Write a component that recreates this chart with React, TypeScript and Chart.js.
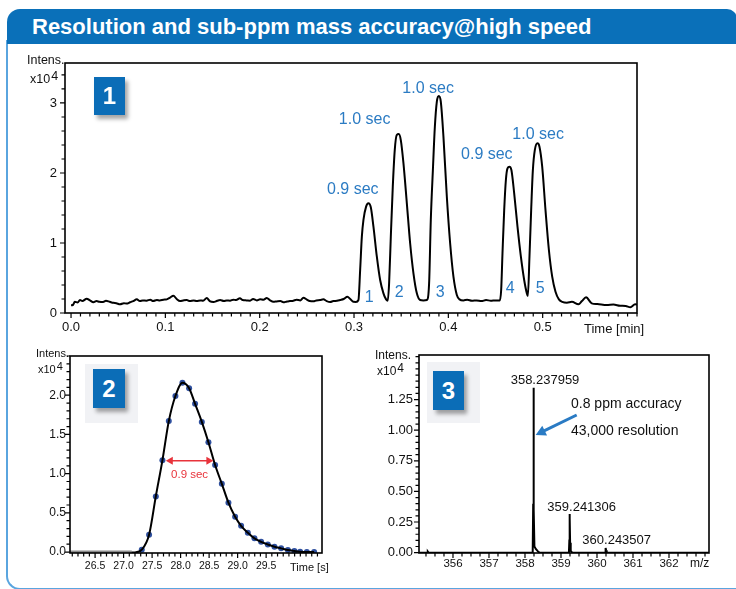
import React, { useEffect, useRef } from "react";
import { Chart, registerables } from "chart.js";

Chart.register(...registerables);

const FONT = "'Liberation Sans', Arial, Helvetica, sans-serif";
const BLUE_TEXT = "#2b7bc3";

// ---------- Panel 1: chromatogram (Time [min], Intens. x10^4) ----------
const p1Time = [
  0.0, 0.002, 0.004, 0.007, 0.0095, 0.012, 0.0166, 0.02, 0.0237, 0.027, 0.03, 0.034, 0.037, 0.041, 0.045,
  0.048, 0.052, 0.056, 0.059, 0.0626, 0.066, 0.0697, 0.073, 0.076, 0.08, 0.084, 0.087, 0.091, 0.094, 0.098,
  0.1015, 0.105, 0.1085, 0.112, 0.1156, 0.119, 0.1227, 0.126, 0.13, 0.1333, 0.137, 0.14, 0.1439, 0.147,
  0.151, 0.155, 0.158, 0.162, 0.165, 0.1686, 0.172, 0.175, 0.179, 0.182, 0.186, 0.1898, 0.193, 0.197,
  0.2004, 0.204, 0.2075, 0.211, 0.2145, 0.218, 0.222, 0.2251, 0.229, 0.232, 0.2357, 0.239, 0.243, 0.2463,
  0.25, 0.253, 0.257, 0.26, 0.264, 0.2675, 0.271, 0.2747, 0.278, 0.282, 0.2853, 0.289, 0.293, 0.296,
  0.2994, 0.302, 0.3047, 0.3065, 0.3083, 0.31, 0.3128, 0.3153, 0.3178, 0.3206, 0.3242, 0.3277, 0.3312,
  0.334, 0.3358, 0.3372, 0.339, 0.3411, 0.3432, 0.3453, 0.3475, 0.3496, 0.3524, 0.356, 0.3595, 0.363,
  0.3666, 0.3701, 0.3735, 0.3772, 0.3796, 0.3814, 0.3836, 0.3857, 0.3878, 0.3899, 0.392, 0.3948, 0.3984,
  0.4019, 0.4054, 0.409, 0.4118, 0.416, 0.42, 0.425, 0.43, 0.435, 0.44, 0.445, 0.45, 0.4545, 0.456,
  0.4574, 0.4592, 0.461, 0.4627, 0.4648, 0.4669, 0.4698, 0.4733, 0.4769, 0.4804, 0.4832, 0.4843, 0.486,
  0.4878, 0.4896, 0.4917, 0.4945, 0.4966, 0.4995, 0.503, 0.5066, 0.5101, 0.5136, 0.5172, 0.5207, 0.5257,
  0.531, 0.538, 0.5416, 0.546, 0.552, 0.558, 0.568, 0.575, 0.582, 0.588, 0.593, 0.598, 0.6,
];
const p1Intensity = [
  0.11, 0.114, 0.16, 0.15, 0.186, 0.17, 0.205, 0.18, 0.153, 0.17, 0.16, 0.157, 0.175, 0.16, 0.145,
  0.14, 0.124, 0.14, 0.135, 0.153, 0.17, 0.195, 0.17, 0.18, 0.176, 0.19, 0.17, 0.186, 0.18, 0.19,
  0.195, 0.22, 0.248, 0.2, 0.171, 0.18, 0.186, 0.17, 0.18, 0.171, 0.18, 0.175, 0.214, 0.17,
  0.157, 0.175, 0.186, 0.17, 0.18, 0.176, 0.19, 0.185, 0.21, 0.185, 0.18, 0.176, 0.2, 0.18,
  0.195, 0.19, 0.214, 0.18, 0.16, 0.165, 0.17, 0.153, 0.165, 0.17, 0.176, 0.19, 0.18, 0.219,
  0.19, 0.17, 0.167, 0.18, 0.185, 0.195, 0.17, 0.157, 0.17, 0.175, 0.186, 0.2, 0.233, 0.2,
  0.16, 0.158, 0.186, 0.614, 1.09, 1.33, 1.52, 1.567, 1.51, 1.233, 0.804, 0.471, 0.281,
  0.195, 0.176, 0.424, 1.09, 1.805, 2.33, 2.543, 2.557, 2.47, 2.14, 1.567, 0.996, 0.567,
  0.281, 0.186, 0.18, 0.186, 0.424, 1.33, 2.04, 2.66, 3.02, 3.1, 3.02, 2.52, 1.66,
  0.996, 0.519, 0.257, 0.195, 0.18, 0.19, 0.175, 0.18, 0.17, 0.185, 0.175, 0.18, 0.18, 0.329,
  0.853, 1.47, 1.9, 2.067, 2.09, 2.04, 1.71, 1.233, 0.804, 0.471, 0.281, 0.243, 0.804,
  1.47, 2.04, 2.33, 2.424, 2.376, 2.09, 1.47, 0.9, 0.519, 0.304, 0.195, 0.16, 0.147,
  0.16, 0.124, 0.17, 0.224, 0.138, 0.128, 0.114, 0.12, 0.104, 0.1, 0.081, 0.124, 0.12,
];
const p1XTicks = [0, 0.1, 0.2, 0.3, 0.4, 0.5];
const p1YTicks = [0, 1, 2, 3];
const p1PeakLabels = ["0.9 sec", "1.0 sec", "1.0 sec", "0.9 sec", "1.0 sec"];
const p1PeakLabelTime = [0.2987, 0.3112, 0.3786, 0.4408, 0.4952];
const p1PeakLabelValue = [1.757, 2.757, 3.21, 2.257, 2.543];
const p1PeakNumbers = ["1", "2", "3", "4", "5"];
const p1PeakNumberTime = [0.316, 0.3478, 0.3913, 0.4655, 0.4973];
const p1PeakNumberValue = [0.219, 0.29, 0.29, 0.353, 0.353];

// ---------- Panel 2: single peak (Time [s]) ----------
const p2BaselineTime = [26.06, 27.144];
const p2BaselineValue = [0, 0];
const p2FitLeadTime = [27.12, 27.2];
const p2FitLeadValue = [-0.006, -0.004];
const p2Time = [
  27.319, 27.447, 27.565, 27.681, 27.793, 27.909, 28.032, 28.149, 28.254, 28.372, 28.488, 28.605, 28.723,
  28.839, 28.956, 29.061, 29.179, 29.295, 29.412, 29.53, 29.646, 29.763, 29.881, 29.996, 30.096, 30.214, 30.342,
];
const p2Intensity = [
  0.03, 0.22, 0.71, 1.17, 1.67, 1.99, 2.16, 2.09, 1.89, 1.66, 1.4, 1.11, 0.87,
  0.63, 0.45, 0.335, 0.246, 0.175, 0.13, 0.097, 0.067, 0.047, 0.025, 0.013, 0.004, 0.0, 0.0,
];
const p2XTicks = [26.5, 27.0, 27.5, 28.0, 28.5, 29.0, 29.5];
const p2YTicks = [0, 0.5, 1.0, 1.5, 2.0];
const p2WidthLabel = "0.9 sec";
const p2WidthFrom = 27.74;
const p2WidthTo = 28.575;
const p2WidthLevel = 1.163;

// ---------- Panel 3: mass spectrum (m/z) ----------
const p3Mz = [
  355.06, 355.28, 355.3, 355.32, 358.2, 358.215, 358.228, 358.235, 358.238, 358.242, 358.25, 358.262,
  358.3, 358.36, 358.4, 359.22, 359.232, 359.238, 359.241, 359.245, 359.253, 359.27, 359.31, 360.225,
  360.236, 360.2435, 360.252, 360.27, 363.11,
];
const p3Intensity = [
  0, 0, 0.008, 0, 0, 0.03, 0.4, 1.2, 1.347, 1.2, 0.35, 0.05,
  0.03, 0.01, 0, 0, 0.1, 0.29, 0.316, 0.28, 0.08, 0.015, 0, 0,
  0.025, 0.038, 0.02, 0, 0,
];
const p3XTicks = [356, 357, 358, 359, 360, 361, 362];
const p3YTicks = [0, 0.25, 0.5, 0.75, 1.0, 1.25];
const p3PeakLabels = ["358.237959", "359.241306", "360.243507"];
const p3PeakLabelMz = [358.556, 359.575, 360.547];
const p3PeakLabelValue = [1.41, 0.368, 0.098];

type AxisSpec = {
  min: number;
  max: number;
  labels: number[];
  minor: number;
  fmt: (v: number) => string;
  font: number;
  pad: number;
  size: number;
};

function buildScales(xs: AxisSpec, ys: AxisSpec) {
  return {
    x: {
      type: "linear",
      min: xs.min,
      max: xs.max,
      grid: { display: false, drawTicks: false },
      border: { display: false },
      ticks: {
        autoSkip: false,
        maxRotation: 0,
        minRotation: 0,
        padding: xs.pad,
        color: "#111",
        font: { family: FONT, size: xs.font },
        callback: (v: any) => xs.fmt(Number(v)),
      },
      afterBuildTicks: (s: any) => {
        s.ticks = xs.labels.map((v) => ({ value: v }));
      },
      afterFit: (s: any) => {
        s.height = xs.size;
        s.paddingLeft = 0;
        s.paddingRight = 0;
      },
    },
    y: {
      type: "linear",
      min: ys.min,
      max: ys.max,
      grid: { display: false, drawTicks: false },
      border: { display: false },
      ticks: {
        autoSkip: false,
        padding: ys.pad,
        color: "#111",
        font: { family: FONT, size: ys.font },
        callback: (v: any) => ys.fmt(Number(v)),
      },
      afterBuildTicks: (s: any) => {
        s.ticks = ys.labels.map((v) => ({ value: v }));
      },
      afterFit: (s: any) => {
        s.width = ys.size;
        s.paddingTop = 0;
        s.paddingBottom = 0;
      },
    },
  };
}

function drawFrame(chart: any, xs: AxisSpec, ys: AxisSpec) {
  const { ctx, chartArea: a } = chart;
  const x = chart.scales.x;
  const y = chart.scales.y;
  ctx.save();
  ctx.strokeStyle = "#000";
  ctx.lineWidth = 1.2;
  ctx.beginPath();
  const xi0 = Math.ceil(xs.min / xs.minor - 1e-6);
  const xi1 = Math.floor(xs.max / xs.minor + 1e-6);
  for (let i = xi0; i <= xi1; i++) {
    const v = i * xs.minor;
    const major = xs.labels.some((m) => Math.abs(m - v) < xs.minor * 0.1);
    const px = x.getPixelForValue(v);
    ctx.moveTo(px, a.bottom);
    ctx.lineTo(px, a.bottom + (major ? 5 : 3.5));
  }
  const yi0 = Math.ceil(ys.min / ys.minor - 1e-6);
  const yi1 = Math.floor(ys.max / ys.minor + 1e-6);
  for (let i = yi0; i <= yi1; i++) {
    const v = i * ys.minor;
    const major = ys.labels.some((m) => Math.abs(m - v) < ys.minor * 0.1);
    const py = y.getPixelForValue(v);
    ctx.moveTo(a.left, py);
    ctx.lineTo(a.left - (major ? 5 : 3.5), py);
  }
  ctx.stroke();
  ctx.lineWidth = 1.6;
  ctx.strokeRect(a.left, a.top, a.right - a.left, a.bottom - a.top);
  ctx.restore();
}

function text(
  ctx: CanvasRenderingContext2D,
  s: string,
  px: number,
  py: number,
  size: number,
  color: string,
  align: CanvasTextAlign = "center",
  baseline: CanvasTextBaseline = "middle"
) {
  ctx.save();
  ctx.font = `${size}px ${FONT}`;
  ctx.fillStyle = color;
  ctx.textAlign = align;
  ctx.textBaseline = baseline;
  ctx.fillText(s, px, py);
  ctx.restore();
}

function arrowHead(ctx: CanvasRenderingContext2D, fx: number, fy: number, tx: number, ty: number, len: number, half: number) {
  const ang = Math.atan2(ty - fy, tx - fx);
  ctx.beginPath();
  ctx.moveTo(tx, ty);
  ctx.lineTo(tx - len * Math.cos(ang) + half * Math.sin(ang), ty - len * Math.sin(ang) - half * Math.cos(ang));
  ctx.lineTo(tx - len * Math.cos(ang) - half * Math.sin(ang), ty - len * Math.sin(ang) + half * Math.cos(ang));
  ctx.closePath();
  ctx.fill();
}

const pts = (xs: number[], ys: number[]) => xs.map((v, i) => ({ x: v, y: ys[i] }));

type PanelProps = { left: number; top: number; width: number; height: number; make: () => any };

function ChartPanel({ left, top, width, height, make }: PanelProps) {
  const ref = useRef<HTMLCanvasElement | null>(null);
  useEffect(() => {
    if (!ref.current) return;
    const chart = new Chart(ref.current, make());
    return () => chart.destroy();
  }, []);
  return (
    <canvas
      ref={ref}
      width={width}
      height={height}
      style={{ position: "absolute", left, top, width, height, display: "block" }}
    />
  );
}

const P1X: AxisSpec = { min: -0.0064, max: 0.6, labels: p1XTicks, minor: 0.01, fmt: (v) => v.toFixed(1), font: 13, pad: 7, size: 32 };
const P1Y: AxisSpec = { min: 0, max: 3.571, labels: p1YTicks, minor: 0.2, fmt: (v) => String(Math.round(v)), font: 13, pad: 8, size: 50 };
const P2X: AxisSpec = { min: 26.06, max: 30.48, labels: p2XTicks, minor: 0.1, fmt: (v) => v.toFixed(1), font: 10.5, pad: 7, size: 32 };
const P2Y: AxisSpec = { min: -0.012, max: 2.5, labels: p2YTicks, minor: 0.1, fmt: (v) => v.toFixed(1), font: 12, pad: 4, size: 50 };
const P3X: AxisSpec = { min: 355.056, max: 363.111, labels: p3XTicks, minor: 0.25, fmt: (v) => String(Math.round(v)), font: 11.5, pad: 4, size: 32 };
const P3Y: AxisSpec = { min: -0.003, max: 1.614, labels: p3YTicks, minor: 0.05, fmt: (v) => v.toFixed(2), font: 13, pad: 6, size: 49 };

function makePanel1() {
  return {
    type: "scatter",
    data: {
      datasets: [
        {
          data: pts(p1Time, p1Intensity),
          showLine: true,
          borderColor: "#000",
          borderWidth: 2,
          pointRadius: 0,
          cubicInterpolationMode: "monotone",
        },
      ],
    },
    options: {
      responsive: false,
      animation: false,
      events: [],
      layout: { padding: { top: 8, right: 18, left: 0, bottom: 0 } },
      plugins: { legend: { display: false }, tooltip: { enabled: false } },
      scales: buildScales(P1X, P1Y),
    },
    plugins: [
      {
        id: "p1overlay",
        afterDraw(chart: any) {
          drawFrame(chart, P1X, P1Y);
          const { ctx, chartArea: a } = chart;
          const x = chart.scales.x;
          const y = chart.scales.y;
          p1PeakLabels.forEach((s, i) =>
            text(ctx, s, x.getPixelForValue(p1PeakLabelTime[i]), y.getPixelForValue(p1PeakLabelValue[i]), 16, BLUE_TEXT)
          );
          p1PeakNumbers.forEach((s, i) =>
            text(ctx, s, x.getPixelForValue(p1PeakNumberTime[i]), y.getPixelForValue(p1PeakNumberValue[i]), 16, BLUE_TEXT)
          );
          text(ctx, "Time [min]", a.right - 53, a.bottom + 19.5, 13, "#111", "left", "alphabetic");
        },
      },
    ],
  };
}

function makePanel2() {
  return {
    type: "scatter",
    data: {
      datasets: [
        {
          data: pts(p2BaselineTime, p2BaselineValue),
          showLine: true,
          borderColor: "#8a8a8a",
          borderWidth: 3,
          pointRadius: 0,
        },
        {
          data: pts(p2FitLeadTime.concat(p2Time), p2FitLeadValue.concat(p2Intensity)),
          showLine: true,
          borderColor: "#000",
          borderWidth: 2,
          pointRadius: 0,
          cubicInterpolationMode: "monotone",
        },
        {
          data: pts(p2Time, p2Intensity),
          showLine: false,
          pointRadius: 3,
          pointBackgroundColor: "#2e4f9e",
          pointBorderColor: "#2e4f9e",
          pointBorderWidth: 0,
        },
      ],
    },
    options: {
      responsive: false,
      animation: false,
      events: [],
      layout: { padding: { top: 11, right: 18, left: 0, bottom: 0 } },
      plugins: { legend: { display: false }, tooltip: { enabled: false } },
      scales: buildScales(P2X, P2Y),
    },
    plugins: [
      {
        id: "p2overlay",
        afterDraw(chart: any) {
          drawFrame(chart, P2X, P2Y);
          const { ctx, chartArea: a } = chart;
          const x = chart.scales.x;
          const y = chart.scales.y;
          const x0 = x.getPixelForValue(p2WidthFrom);
          const x1 = x.getPixelForValue(p2WidthTo);
          const yy = y.getPixelForValue(p2WidthLevel);
          ctx.save();
          ctx.strokeStyle = "#e8333b";
          ctx.fillStyle = "#e8333b";
          ctx.lineWidth = 1.5;
          ctx.beginPath();
          ctx.moveTo(x0 + 4, yy);
          ctx.lineTo(x1 - 4, yy);
          ctx.stroke();
          arrowHead(ctx, x1, yy, x0, yy, 7, 4);
          arrowHead(ctx, x0, yy, x1, yy, 7, 4);
          ctx.restore();
          text(ctx, p2WidthLabel, (x0 + x1) / 2, yy + 14, 11.5, "#e8333b");
          text(ctx, "Time [s]", a.right - 32, a.bottom + 18, 11, "#111", "left", "alphabetic");
        },
      },
    ],
  };
}

function makePanel3() {
  return {
    type: "scatter",
    data: {
      datasets: [
        {
          data: pts(p3Mz, p3Intensity),
          showLine: true,
          borderColor: "#000",
          borderWidth: 2,
          pointRadius: 0,
        },
      ],
    },
    options: {
      responsive: false,
      animation: false,
      events: [],
      layout: { padding: { top: 10, right: 21, left: 0, bottom: 0 } },
      plugins: { legend: { display: false }, tooltip: { enabled: false } },
      scales: buildScales(P3X, P3Y),
    },
    plugins: [
      {
        id: "p3overlay",
        afterDraw(chart: any) {
          drawFrame(chart, P3X, P3Y);
          const { ctx, chartArea: a } = chart;
          const x = chart.scales.x;
          const y = chart.scales.y;
          p3PeakLabels.forEach((s, i) =>
            text(ctx, s, x.getPixelForValue(p3PeakLabelMz[i]), y.getPixelForValue(p3PeakLabelValue[i]), 13, "#111")
          );
          text(ctx, "0.8 ppm accuracy", x.getPixelForValue(359.278), y.getPixelForValue(1.214), 14, "#111", "left");
          text(ctx, "43,000 resolution", x.getPixelForValue(359.278), y.getPixelForValue(0.995), 14, "#111", "left");
          const fx = x.getPixelForValue(359.436);
          const fy = y.getPixelForValue(1.124);
          const tx = x.getPixelForValue(358.297);
          const ty = y.getPixelForValue(0.961);
          ctx.save();
          ctx.strokeStyle = "#2a7bc4";
          ctx.fillStyle = "#2a7bc4";
          ctx.lineWidth = 3;
          const ang = Math.atan2(ty - fy, tx - fx);
          ctx.beginPath();
          ctx.moveTo(fx, fy);
          ctx.lineTo(tx - 7 * Math.cos(ang), ty - 7 * Math.sin(ang));
          ctx.stroke();
          arrowHead(ctx, fx, fy, tx, ty, 10, 5.5);
          ctx.restore();
          text(ctx, "m/z", a.right - 19, a.bottom + 13.6, 12, "#111", "left", "alphabetic");
        },
      },
    ],
  };
}

function IntensLabel({ left, top, size, xLeft, xTop }: { left: number; top: number; size: number; xLeft: number; xTop: number }) {
  return (
    <>
      <div style={{ position: "absolute", left, top, font: `${size}px ${FONT}`, lineHeight: 1, color: "#111", whiteSpace: "nowrap" }}>
        Intens.
      </div>
      <div style={{ position: "absolute", left: xLeft, top: xTop, font: `${size}px ${FONT}`, lineHeight: 1, color: "#111", whiteSpace: "nowrap" }}>
        x10
        <span style={{ position: "relative", top: -3, marginLeft: 1 }}>4</span>
      </div>
    </>
  );
}

function Badge({ n, left, top, w, h, back }: { n: string; left: number; top: number; w: number; h: number; back?: number[] }) {
  return (
    <>
      {back ? (
        <div style={{ position: "absolute", left: back[0], top: back[1], width: back[2], height: back[3], background: "#f1f2f5" }} />
      ) : null}
      <div
        style={{
          position: "absolute",
          left,
          top,
          width: w,
          height: h,
          background: "#0b6db7",
          color: "#fff",
          font: `bold 24px ${FONT}`,
          lineHeight: `${h}px`,
          textAlign: "center",
          boxShadow: "3px 4px 4px rgba(0,0,0,0.35)",
        }}
      >
        {n}
      </div>
    </>
  );
}

export default function App() {
  return (
    <div style={{ position: "absolute", left: 0, top: 0, width: 736, height: 589, overflow: "hidden", background: "#fff" }}>
      <div
        style={{
          position: "absolute",
          left: 6,
          top: 40,
          width: 760,
          height: 550,
          borderLeft: "2px solid #5aa5df",
          borderBottom: "2px solid #5aa5df",
          borderBottomLeftRadius: 14,
          boxSizing: "border-box",
        }}
      />
      <div
        style={{
          position: "absolute",
          left: 7,
          top: 9,
          width: 730,
          height: 35,
          background: "#0a70b9",
          borderRadius: "13px 10px 0 0",
          color: "#fff",
          font: `bold 22px ${FONT}`,
          lineHeight: "35px",
          paddingLeft: 25,
          boxSizing: "border-box",
          whiteSpace: "nowrap",
        }}
      >
        Resolution and sub-ppm mass accuracy@high speed
      </div>

      <ChartPanel left={15} top={55} width={640} height={290} make={makePanel1} />
      <ChartPanel left={20} top={345} width={320} height={240} make={makePanel2} />
      <ChartPanel left={370} top={345} width={360} height={240} make={makePanel3} />

      <IntensLabel left={27} top={54} size={12.5} xLeft={30} xTop={73} />
      <IntensLabel left={36} top={347.6} size={11} xLeft={38} xTop={364} />
      <IntensLabel left={375} top={349.3} size={12} xLeft={377} xTop={365} />

      <Badge n="1" left={94} top={77} w={31} h={38} />
      <Badge n="2" left={93} top={369} w={32} h={39} back={[85, 364, 53, 59]} />
      <Badge n="3" left={433} top={371} w={31} h={39} back={[427, 362, 53, 61]} />
    </div>
  );
}
